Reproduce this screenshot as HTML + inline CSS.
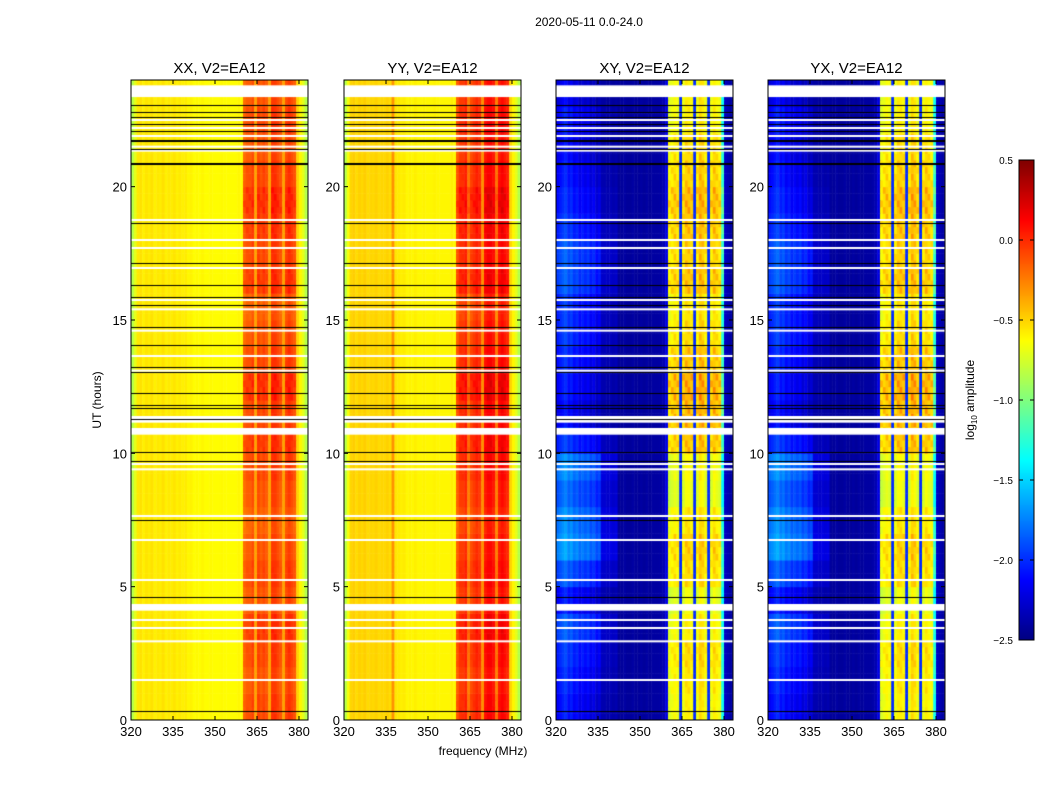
<!DOCTYPE html>
<html><head><meta charset="utf-8">
<style>
html,body{margin:0;padding:0;background:#fff;}
#wrap{position:relative;width:1050px;height:800px;overflow:hidden;font-family:"Liberation Sans","DejaVu Sans",sans-serif;}
canvas{position:absolute;}
svg{position:absolute;left:0;top:0;}
</style></head>
<body>
<div id="wrap">
<canvas id="c0" width="177" height="640" style="left:131px;top:80px"></canvas>
<canvas id="c1" width="177" height="640" style="left:344px;top:80px"></canvas>
<canvas id="c2" width="177" height="640" style="left:556px;top:80px"></canvas>
<canvas id="c3" width="177" height="640" style="left:768px;top:80px"></canvas>
<canvas id="cb" width="15" height="480" style="left:1019px;top:160px"></canvas>
<svg id="ax" width="1050" height="800"></svg>
</div>
<script>
// ---- data ----
const panelTitles = ["XX, V2=EA12","YY, V2=EA12","XY, V2=EA12","YX, V2=EA12"];
const xTicks = [320,335,350,365,380];
const yTicks = [0,5,10,15,20];
const cbTicks = [0.5,0.0,-0.5,-1.0,-1.5,-2.0,-2.5];
const freqStart = 320; // channel i = 320+i MHz
const profXX = [-0.85,-0.7,-0.56,-0.54,-0.58,-0.55,-0.57,-0.54,-0.58,-0.56,-0.57,-0.54,-0.58,-0.56,-0.57,-0.55,-0.58,-0.56,-0.58,-0.57,-0.6,-0.59,-0.62,-0.61,-0.62,-0.6,-0.62,-0.62,-0.61,-0.62,-0.62,-0.62,-0.61,-0.62,-0.62,-0.62,-0.62,-0.62,-0.6,-0.62,-0.2,-0.15,-0.15,-0.1,-0.35,-0.1,-0.15,-0.1,-0.15,-0.35,-0.05,-0.05,-0.1,-0.15,-0.35,-0.1,-0.05,-0.1,-0.15,-0.5,-0.6,-0.7,-0.85];
const profYY = [-0.85,-0.65,-0.5,-0.48,-0.52,-0.49,-0.51,-0.48,-0.52,-0.5,-0.51,-0.49,-0.52,-0.5,-0.51,-0.49,-0.52,-0.3,-0.55,-0.56,-0.58,-0.57,-0.6,-0.59,-0.6,-0.58,-0.6,-0.6,-0.59,-0.6,-0.6,-0.6,-0.59,-0.6,-0.6,-0.6,-0.6,-0.6,-0.58,-0.6,-0.15,-0.05,-0.05,0.0,-0.25,-0.1,-0.05,0.0,-0.05,-0.3,0.05,0.1,0.1,0.05,-0.25,0.05,0.1,0.05,0.0,-0.5,-0.6,-0.7,-0.85];
const profXY = [-2.25,-2.2,-2.15,-2.1,-2.2,-2.15,-2.25,-2.2,-2.3,-2.25,-2.3,-2.25,-2.35,-2.3,-2.4,-2.35,-2.4,-2.4,-2.42,-2.4,-2.42,-2.4,-2.42,-2.42,-2.4,-2.42,-2.42,-2.4,-2.42,-2.42,-2.4,-2.42,-2.4,-2.42,-2.4,-2.4,-2.4,-2.38,-2.35,-2.2,-0.8,-0.75,-0.7,-0.75,-2.0,-0.75,-0.65,-0.65,-0.7,-2.0,-0.75,-0.6,-0.65,-0.75,-2.0,-0.75,-0.65,-0.7,-0.75,-1.4,-2.3,-2.35,-2.4];
const profYX = [-2.25,-2.2,-2.15,-2.1,-2.2,-2.15,-2.25,-2.2,-2.3,-2.25,-2.3,-2.25,-2.35,-2.3,-2.4,-2.35,-2.4,-2.4,-2.42,-2.4,-2.42,-2.4,-2.42,-2.42,-2.4,-2.42,-2.42,-2.4,-2.42,-2.42,-2.4,-2.42,-2.4,-2.42,-2.4,-2.4,-2.4,-2.38,-2.35,-2.2,-0.8,-0.75,-0.7,-0.75,-2.0,-0.75,-0.65,-0.65,-0.7,-2.0,-0.75,-0.6,-0.65,-0.75,-2.0,-0.75,-0.65,-0.7,-0.75,-1.4,-2.3,-2.35,-2.4];
// hourly modulation of band amplitude (hour 0..23)
const hourModCo = [0.05,0.0,0.05,0.1,0.0,0.05,0.0,-0.05,0.0,0.05,0.1,0.05,0.15,0.05,0.0,-0.05,0.1,0.05,0.1,0.15,0.05,0.0,0.05,0.0];
const hourModCross = [0.1,0.15,0.2,0.1,0.0,0.2,0.25,0.15,0.0,0.05,0.3,0.35,0.4,0.3,0.2,0.15,0.3,0.25,0.3,0.35,0.25,0.2,0.1,0.1];
// low-frequency (320-340 MHz) brightening in cross-hands, hourly
const blobCross = [0.1,0.15,0.2,0.3,0.1,0.3,0.5,0.45,0.35,0.45,0.2,0.05,0.1,0.15,0.2,0.2,0.3,0.3,0.2,0.15,0.1,0.05,0.1,0.0];
const whiteBands = [[23.36,23.8],[11.15,11.4],[10.7,10.95],[4.1,4.35]];
const whiteLines = [22.5,22.2,21.9,21.5,21.35,18.75,18.0,17.7,16.95,15.75,15.4,14.6,13.65,13.1,9.6,9.4,7.65,6.75,5.25,3.75,3.45,2.95,1.5];
const blackLines = [23.06,22.8,22.6,22.35,22.1,21.75,21.7,21.4,20.9,20.85,18.65,17.15,16.3,15.85,15.55,14.75,14.05,13.25,13.05,12.25,11.8,11.7,11.3,10.05,9.7,7.5,4.6,0.35];

// ---- scales ----
const PX=[131,344,556,768], PW=177, PT=80, PH=640;
const fx = f => (f-320)*2.8;
const ty = h => PH - h*PH/24;
function jet(v){
  let t=Math.max(0,Math.min(1,(v+2.5)/3));
  const r=Math.max(0,Math.min(1,1.5-Math.abs(4*t-3)));
  const g=Math.max(0,Math.min(1,1.5-Math.abs(4*t-2)));
  const b=Math.max(0,Math.min(1,1.5-Math.abs(4*t-1)));
  return `rgb(${Math.round(r*255)},${Math.round(g*255)},${Math.round(b*255)})`;
}
const profs=[profXX,profYY,profXY,profYX];
profs.forEach((prof,p)=>{
  const ctx=document.getElementById('c'+p).getContext('2d');
  const cross=p>=2;
  const mod=cross?hourModCross:hourModCo;
  for(let h=0;h<24;h+=0.25){
    const hi=Math.floor(h);
    for(let i=0;i<prof.length;i++){
      const f=freqStart+i;
      let v=prof[i];
      const inBand=f>=360&&f<=379&&v>(cross?-1.5:-0.3);
      if(inBand) v+=mod[hi]*(((i+Math.round(h*4))%3)===0?1:0.6);
      if(cross&&f<342) v+=blobCross[hi]*(f<336?1:0.4);
      ctx.fillStyle=jet(v);
      const x0=fx(f),x1=fx(f+1), y0=ty(h+0.25), y1=ty(h);
      ctx.fillRect(x0,y0,x1-x0+0.5,y1-y0+0.5);
    }
  }
  ctx.fillStyle='#fff';
  whiteBands.forEach(b=>{ctx.fillRect(0,ty(b[1]),PW,ty(b[0])-ty(b[1]));});
  whiteLines.forEach(h=>{ctx.fillRect(0,ty(h)-1,PW,2);});
  ctx.fillStyle='#000';
  blackLines.forEach(h=>{ctx.fillRect(0,Math.round(ty(h)),PW,1);});
});
(function(){
  const ctx=document.getElementById('cb').getContext('2d');
  for(let y=0;y<480;y++){ctx.fillStyle=jet(0.5-3*y/480);ctx.fillRect(0,y,15,1);}
})();

// ---- axes (SVG) ----
const NS='http://www.w3.org/2000/svg';
const svg=document.getElementById('ax');
function mk(tag,attrs,parent){const e=document.createElementNS(NS,tag);for(const k in attrs)e.setAttribute(k,attrs[k]);(parent||svg).appendChild(e);return e;}
let t=mk('text',{x:589,y:26,'font-size':12,'text-anchor':'middle',fill:'#000'});
t.textContent='2020-05-11 0.0-24.0';


PX.forEach((x0,p)=>{
  const g=mk('g',{});
  
  
  const fr=mk('rect',{x:x0,y:PT,width:PW,height:PH,fill:'none',stroke:'#000','stroke-width':1},g);
  
  
  const tt=mk('text',{x:x0+PW/2,y:73,'font-size':15,'text-anchor':'middle'},g);
  tt.textContent=panelTitles[p];
  
  
  xTicks.forEach(f=>{
    const x=x0+fx(f);
    mk('line',{x1:x,x2:x,y1:PT+PH,y2:PT+PH-4,stroke:'#000'},g);
    mk('line',{x1:x,x2:x,y1:PT,y2:PT+4,stroke:'#000'},g);
    const l=mk('text',{x:x,y:PT+PH+16,'font-size':13,'text-anchor':'middle'},g);
    l.textContent=f;
    
    
  });
  yTicks.forEach(h=>{
    const y=PT+ty(h);
    mk('line',{x1:x0,x2:x0+4,y1:y,y2:y,stroke:'#000'},g);
    mk('line',{x1:x0+PW,x2:x0+PW-4,y1:y,y2:y,stroke:'#000'},g);
    const l=mk('text',{x:x0-4,y:y+5,'font-size':13,'text-anchor':'end'},g);
    l.textContent=h;
    
    
  });
});
t=mk('text',{x:483,y:755,'font-size':12,'text-anchor':'middle'});
t.textContent='frequency (MHz)';


t=mk('text',{x:0,y:0,'font-size':12,'text-anchor':'middle',transform:'translate(101,400) rotate(-90)'});
t.textContent='UT (hours)';


const cbf=mk('rect',{x:1019,y:160,width:15,height:480,fill:'none',stroke:'#000'});


cbTicks.forEach(v=>{
  const y=160+(0.5-v)/3*480;
  mk('line',{x1:1019,x2:1023,y1:y,y2:y,stroke:'#000'});
  mk('line',{x1:1034,x2:1030,y1:y,y2:y,stroke:'#000'});
  const l=mk('text',{x:1013,y:y+4,'font-size':10,'text-anchor':'end'});
  l.textContent=(v<0?'\u2212':'')+Math.abs(v).toFixed(1);
  
  
});
t=mk('text',{x:0,y:0,'font-size':12,'text-anchor':'middle',transform:'translate(974,400) rotate(-90)'});
t.innerHTML='log<tspan font-size="8" dy="3">10</tspan><tspan dy="-3"> amplitude</tspan>';


</script>
</body></html>
